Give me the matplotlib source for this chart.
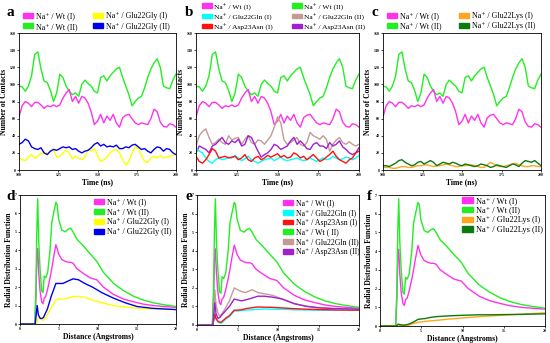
import matplotlib
matplotlib.use("Agg")
import matplotlib.pyplot as plt
from matplotlib.patches import Patch

plt.rcParams["font.family"] = ["Liberation Serif", "DejaVu Serif"]

# ---- contacts vs time (ns) ----
time_ns = list(range(100, 201, 2))

wt_1 = [62, 75, 80, 78, 74, 79, 79, 76, 72, 75, 74, 76, 74, 76, 84, 90, 94, 80, 86, 78,
        86, 84, 78, 68, 53, 57, 65, 55, 63, 58, 65, 55, 50, 61, 64, 65, 60, 55, 53, 55,
        54, 53, 60, 71, 68, 56, 51, 50, 54, 53, 50]
wt_2 = [98, 97, 92, 98, 110, 135, 138, 118, 104, 102, 93, 80, 90, 112, 108, 98, 92, 88, 90, 86,
        100, 105, 101, 98, 92, 90, 108, 110, 104, 110, 114, 118, 120, 108, 98, 88, 75, 80, 84, 86,
        96, 108, 118, 125, 130, 120, 98, 96, 95, 105, 112]
gly_1 = [14, 12, 11, 15, 18, 14, 16, 20, 19, 20, 22, 24, 15, 16, 20, 23, 20, 13, 16, 14,
         12, 15, 24, 22, 25, 17, 10, 12, 15, 20, 23, 24, 20, 12, 6, 10, 20, 27, 25, 17,
         10, 9, 14, 16, 14, 17, 14, 15, 16, 17, 18]
gly_2 = [30, 32, 36, 34, 27, 25, 24, 26, 20, 18, 22, 24, 23, 25, 27, 26, 27, 24, 25, 22,
         20, 22, 23, 26, 30, 32, 28, 30, 27, 28, 27, 29, 25, 25, 27, 26, 29, 30, 27, 24,
         25, 22, 20, 24, 27, 26, 22, 25, 24, 20, 18]
gln_1 = [25, 22, 20, 14, 10, 8, 12, 14, 12, 13, 15, 14, 17, 14, 11, 13, 16, 12, 10, 8,
         10, 12, 13, 14, 11, 13, 15, 12, 11, 12, 13, 14, 12, 11, 12, 14, 12, 10, 12, 14,
         12, 13, 16, 14, 12, 13, 15, 14, 12, 14, 17]
asn_1 = [16, 10, 8, 12, 18, 25, 22, 14, 15, 16, 14, 15, 16, 12, 14, 18, 12, 10, 14, 16,
         12, 14, 17, 15, 17, 19, 15, 17, 14, 15, 20, 18, 14, 16, 12, 15, 18, 14, 10, 12,
         15, 18, 22, 16, 12, 10, 8, 12, 14, 20, 22]
gln_2 = [28, 40, 45, 48, 38, 30, 32, 36, 32, 30, 40, 35, 37, 38, 30, 36, 40, 32, 30, 35,
         34, 30, 35, 40, 50, 62, 55, 35, 30, 32, 35, 38, 30, 28, 32, 44, 40, 38, 36, 40,
         36, 22, 30, 35, 38, 32, 30, 33, 30, 28, 30]
asn_2 = [20, 28, 26, 24, 20, 28, 30, 34, 38, 32, 30, 34, 32, 36, 28, 30, 40, 38, 30, 22,
         15, 18, 20, 24, 30, 28, 24, 26, 28, 34, 38, 30, 34, 30, 25, 24, 30, 32, 28, 28,
         25, 32, 28, 30, 34, 27, 24, 20, 18, 20, 26]
lys_1 = [3, 3, 3, 2, 2, 3, 4, 4, 3, 3, 4, 5, 5, 6, 6, 5, 4, 5, 5, 6,
         7, 6, 5, 4, 4, 5, 5, 6, 6, 5, 4, 3, 3, 6, 9, 7, 5, 4, 4, 5,
         6, 7, 8, 6, 5, 4, 4, 5, 5, 4, 4]
lys_2 = [5, 5, 4, 6, 8, 11, 12, 9, 7, 5, 6, 9, 10, 7, 9, 11, 9, 5, 7, 9,
         8, 7, 9, 8, 6, 5, 7, 6, 5, 4, 5, 7, 6, 5, 3, 4, 6, 5, 4, 3,
         5, 7, 6, 4, 8, 11, 10, 9, 11, 8, 5]

# ---- radial distribution functions ----
r_wt = [0, 1.9, 2.05, 2.15, 2.27, 2.4, 2.57, 2.78, 2.95, 3.1, 3.3, 3.55, 3.85, 4.07, 4.3, 4.6,
        4.75, 4.95, 5.35, 5.8, 6.2, 6.5, 6.8, 7.3, 8.1, 9.0, 9.85, 10.7, 12.0, 13.3, 14.6,
        15.8, 17.1, 18.4, 20]
rdf_wt_2 = [0, 0, 2.0, 5.0, 6.8, 4.5, 3.0, 1.8, 1.7, 2.6, 2.5, 2.8, 4.0, 5.5, 6.0, 6.6,
            6.5, 5.7, 5.1, 5.0, 5.15, 5.2, 5.0, 4.6, 4.25, 3.8, 3.4, 2.8, 2.2, 1.8, 1.5,
            1.3, 1.15, 1.05, 0.95]
rdf_wt_1 = [0, 0, 1.5, 3.5, 4.1, 2.8, 1.8, 1.2, 1.1, 1.4, 1.5, 1.9, 2.5, 3.0, 3.6, 4.3,
            4.1, 3.8, 3.5, 3.4, 3.35, 3.35, 3.3, 3.0, 2.75, 2.5, 2.4, 2.0, 1.6, 1.35, 1.2,
            1.08, 1.0, 0.95, 0.9]

r_mut = [0, 1.95, 2.1, 2.2, 2.35, 2.6, 2.8, 3.0, 3.5, 4.0, 4.6, 5.0, 5.5, 6.0, 6.8, 7.5,
         8.3, 9.3, 10.5, 12.0, 13.5, 15.0, 17.0, 20]
rdf_gly_1 = [0, 0, 0, 0.1, 0.35, 0.3, 0.25, 0.2, 0.5, 0.9, 1.3, 1.35, 1.35, 1.4, 1.48, 1.5,
             1.45, 1.3, 1.15, 1.0, 0.92, 0.86, 0.81, 0.8]
rdf_gly_2 = [0, 0, 0.6, 1.0, 0.5, 0.3, 0.3, 0.35, 0.8, 1.5, 2.2, 2.2, 2.2, 2.3, 2.45, 2.4,
             2.2, 2.0, 1.7, 1.4, 1.15, 0.95, 0.85, 0.78]
rdf_gln_1 = [0, 0, 0.3, 0.5, 0.3, 0.15, 0.12, 0.1, 0.3, 0.45, 0.75, 0.75, 0.78, 0.8, 0.82, 0.85,
             0.86, 0.85, 0.85, 0.82, 0.81, 0.8, 0.8, 0.8]
rdf_asn_1 = [0, 0, 0.35, 0.6, 0.35, 0.2, 0.15, 0.15, 0.35, 0.5, 0.8, 0.8, 0.82, 0.88, 0.93, 0.97,
             0.96, 0.95, 0.92, 0.88, 0.85, 0.83, 0.81, 0.8]
rdf_gln_2 = [0, 0, 1.0, 1.9, 1.1, 0.6, 0.5, 0.55, 0.9, 1.3, 2.0, 1.9, 1.8, 1.75, 1.9, 1.75,
             1.68, 1.6, 1.4, 1.15, 1.02, 0.93, 0.88, 0.85]
rdf_asn_2 = [0, 0, 0.7, 1.2, 0.6, 0.35, 0.4, 0.5, 0.75, 1.0, 1.4, 1.35, 1.3, 1.35, 1.45, 1.55,
             1.55, 1.5, 1.4, 1.15, 1.0, 0.93, 0.88, 0.85]
rdf_lys_1 = [0, 0, 0, 0, 0.01, 0.02, 0.02, 0.03, 0.05, 0.12, 0.2, 0.22, 0.25, 0.27, 0.3, 0.33,
             0.37, 0.4, 0.45, 0.5, 0.54, 0.58, 0.63, 0.7]
rdf_lys_2 = [0, 0, 0.05, 0.1, 0.08, 0.06, 0.05, 0.05, 0.1, 0.2, 0.35, 0.38, 0.4, 0.45, 0.5, 0.52,
             0.54, 0.56, 0.58, 0.6, 0.6, 0.61, 0.62, 0.65]

MAG, GRN = "#ff33ee", "#22ee22"
YEL, BLU = "#ffff00", "#0000ee"
CYA, RED = "#00ffff", "#ff1111"
ROS, PUR = "#c49a96", "#a020d0"
ORA, DGR = "#ffa620", "#0e7a0e"

L_WT1 = "Na\u207a / Wt (I)"
L_WT2 = "Na\u207a / Wt (II)"
L_GLY1, L_GLY2 = "Na\u207a / Glu22Gly (I)", "Na\u207a / Glu22Gly (II)"
L_GLN1, L_GLN2 = "Na\u207a / Glu22Gln (I)", "Na\u207a / Glu22Gln (II)"
L_ASN1, L_ASN2 = "Na\u207a / Asp23Asn (I)", "Na\u207a / Asp23Asn (II)"
L_LYS1, L_LYS2 = "Na\u207a / Glu22Lys (I)", "Na\u207a / Glu22Lys (II)"

W, H = 550.0, 343.0
fig = plt.figure(figsize=(5.5, 3.43), dpi=100)


def px_rect(x0, y0, x1, y1):
    # pixel box (top-left origin) -> figure fraction rect
    return [x0 / W, 1 - y1 / H, (x1 - x0) / W, (y1 - y0) / H]


def style_axes(ax, xlabel, ylabel, xticks, yticks):
    ax.set_xticks(xticks)
    ax.set_yticks(yticks)
    ax.tick_params(labelsize=2.8, length=1.5, width=0.5, pad=0.8, direction="out")
    for lbl in ax.get_xticklabels() + ax.get_yticklabels():
        lbl.set_fontweight("bold")
    for s in ax.spines.values():
        s.set_linewidth(0.6)
    ax.set_xlabel(xlabel, fontsize=5.5, fontweight="bold", labelpad=1)
    ax.set_ylabel(ylabel, fontsize=5.5, fontweight="bold", labelpad=1.5)


def add_legend(entries, x_px, top_px, fs, spacing):
    handles = [Patch(facecolor=c, edgecolor=c, label=l) for c, l in entries]
    leg = fig.legend(handles=handles, loc="upper left",
                     bbox_to_anchor=(x_px / W, 1 - top_px / H),
                     frameon=False, fontsize=fs, handlelength=1.3, handleheight=0.6,
                     handletextpad=0.35, labelspacing=spacing, borderpad=0,
                     borderaxespad=0)
    return leg


# ---- top row: contacts ----
top_panels = [
    dict(rect=px_rect(19, 33, 176, 170), letter="a", lx=6, fs=5.7, sp=0.28,
         lines=[(wt_2, GRN), (wt_1, MAG), (gly_1, YEL), (gly_2, BLU)],
         legs=[([(MAG, L_WT1), (GRN, L_WT2)], 23, 12.5),
               ([(YEL, L_GLY1), (BLU, L_GLY2)], 93, 12.5)]),
    dict(rect=px_rect(196, 33, 359, 170), letter="b", lx=185, fs=5.4, sp=0.36,
         lines=[(wt_2, GRN), (wt_1, MAG), (gln_2, ROS), (asn_2, PUR), (gln_1, CYA), (asn_1, RED)],
         legs=[([(MAG, L_WT1), (CYA, L_GLN1), (RED, L_ASN1)], 202, 2.5),
               ([(GRN, L_WT2), (ROS, L_GLN2), (PUR, L_ASN2)], 292, 2.5)]),
    dict(rect=px_rect(383, 33, 541, 170), letter="c", lx=371, fs=5.7, sp=0.28,
         lines=[(wt_2, GRN), (wt_1, MAG), (lys_1, ORA), (lys_2, DGR)],
         legs=[([(MAG, L_WT1), (GRN, L_WT2)], 387, 12),
               ([(ORA, L_LYS1), (DGR, L_LYS2)], 459, 12)]),
]

for p in top_panels:
    ax = fig.add_axes(p["rect"])
    for vals, col in p["lines"]:
        ax.plot(time_ns, vals, color=col, lw=1.0)
    ax.set_xlim(100, 200)
    ax.set_ylim(0, 160)
    style_axes(ax, "Time (ns)", "Number of Contacts",
               [100, 125, 150, 175, 200], list(range(0, 161, 20)))
    for entries, x_px, top_px in p["legs"]:
        add_legend(entries, x_px, top_px, p["fs"], p["sp"])
    fig.text(p["lx"] / W, 1 - 13 / H, p["letter"], fontsize=11, fontweight="bold",
             va="center", ha="left")

# ---- bottom row: RDF ----
bot_panels = [
    dict(rect=px_rect(20, 195, 176, 324), letter="d", lx=6, fs=5.8, sp=0.25,
         leg_xy=(94, 198),
         lines=[(r_wt, rdf_wt_1, MAG, L_WT1), (r_wt, rdf_wt_2, GRN, L_WT2),
                (r_mut, rdf_gly_1, YEL, L_GLY1), (r_mut, rdf_gly_2, BLU, L_GLY2)]),
    dict(rect=px_rect(197, 195, 359, 325), letter="e", lx=185, fs=5.6, sp=0.24,
         leg_xy=(283, 199),
         lines=[(r_wt, rdf_wt_1, MAG, L_WT1), (r_mut, rdf_gln_1, CYA, L_GLN1),
                (r_mut, rdf_asn_1, RED, L_ASN1), (r_wt, rdf_wt_2, GRN, "Na\u207a / Wt ( II)"),
                (r_mut, rdf_gln_2, ROS, L_GLN2), (r_mut, rdf_asn_2, PUR, L_ASN2)]),
    dict(rect=px_rect(380, 195, 545, 326), letter="f", lx=367, fs=6.0, sp=0.2,
         leg_xy=(462, 197),
         lines=[(r_wt, rdf_wt_1, MAG, L_WT1), (r_wt, rdf_wt_2, GRN, L_WT2),
                (r_mut, rdf_lys_1, ORA, L_LYS1), (r_mut, rdf_lys_2, DGR, L_LYS2)]),
]

for p in bot_panels:
    ax = fig.add_axes(p["rect"])
    for xs, ys, col, lab in p["lines"]:
        ax.plot(xs, ys, color=col, lw=1.0)
    ax.set_xlim(0, 20)
    ax.set_ylim(0, 7)
    style_axes(ax, "Distance (Angstroms)", "Radial Distribution Function",
               [0, 5, 10, 15, 20], list(range(0, 8)))
    add_legend([(c, l) for _, _, c, l in p["lines"]], p["leg_xy"][0], p["leg_xy"][1],
               p["fs"], p["sp"])
    fig.text(p["lx"] / W, 1 - 196 / H, p["letter"], fontsize=11, fontweight="bold",
             va="center", ha="left")

fig.savefig("out.png", dpi=100)
